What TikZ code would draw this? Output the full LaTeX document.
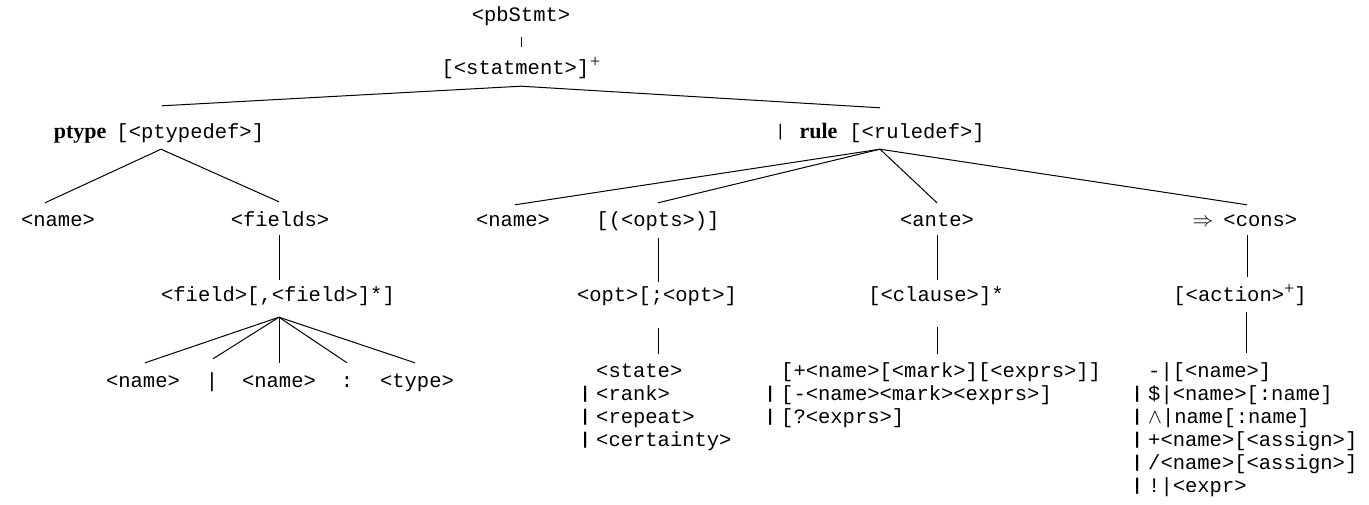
\documentclass[tikz,border=0pt]{standalone}
\usepackage{fontspec}
\setmainfont{Liberation Serif}
\setmonofont{Liberation Mono}
\usetikzlibrary{calc}
\newcommand\sbar{\raisebox{2pt}{\fontsize{17}{17}\selectfont\bfseries|}}
\newcommand\tbar{\raisebox{2pt}{\fontsize{17}{17}\selectfont|}}
\newcommand\lbar{\makebox[19pt][l]{\hspace{3pt}\sbar}}
\newcommand\nobar{\makebox[19pt][l]{}}
\newcommand\kw[1]{{\rmfamily\bfseries\fontsize{22}{23}\selectfont #1}}
\newcommand\plusup{{\rmfamily\raisebox{7pt}{\fontsize{18}{18}\selectfont +}}}
\begin{document}
\begin{tikzpicture}[x=1pt,y=-1pt,
  every node/.style={font=\fontsize{20.5}{23}\selectfont\ttfamily, inner sep=0pt},
  lab/.style={text height=15pt, text depth=5pt, anchor=base},
  lst/.style={anchor=base west},
  edge/.style={line width=1pt}]
\useasboundingbox (0,0) rectangle (1369,504);
% nodes
\node[lab] (pb) at (521,21) {<pbStmt>};
\node[lab] (st) at (521,74) {[<statment>]\hspace{1pt}\plusup};
\node[lab] (pt) at (159,138) {\kw{ptype}\hspace{10pt}[<ptypedef>]};
\node[lab] (ru) at (880,138) {\tbar\hspace{14pt}\kw{rule}\hspace{12pt}[<ruledef>]};
\node[lab] (n1) at (58,226) {<name>};
\node[lab] (fi) at (280,226) {<fields>};
\node[lab] (n2) at (513,226) {<name>};
\node[lab] (op) at (658,226) {[(<opts>)]};
\node[lab] (an) at (937,226) {<ante>};
\node[lab] (co) at (1245,226) {$\Rightarrow$\hspace{10pt}<cons>};
\node[lab] (fl) at (278,301) {<field>[,<field>]*]};
\node[lab] (ol) at (657,301) {<opt>[;<opt>]};
\node[lab] (cl) at (936,301) {[<clause>]*};
\node[lab] (ac) at (1240,301) {[<action>\plusup]};
\node[lab] (e1) at (143,387) {<name>};
\node[lab] (e2) at (212,387) {|};
\node[lab] (e3) at (279,387) {<name>};
\node[lab] (e4) at (347,387) {:};
\node[lab] (e5) at (417,387) {<type>};
\node[lst] (ls) at (577,377) {\begin{tabular}[t]{@{}l@{}}\nobar<state>\\\lbar<rank>\\\lbar<repeat>\\\lbar<certainty>\end{tabular}};
\node[lst] (cs) at (762,377) {\begin{tabular}[t]{@{}l@{}}\nobar[+<name>[<mark>][<exprs>]]\\\lbar[-<name><mark><exprs>]\\\lbar[?<exprs>]\end{tabular}};
\node[lst] (as) at (1129,377) {\begin{tabular}[t]{@{}l@{}}\nobar-|[<name>]\\\lbar\$|<name>[:name]\\\lbar$\wedge$|name[:name]\\\lbar+<name>[<assign>]\\\lbar/<name>[<assign>]\\\lbar!|<expr>\end{tabular}};
% connectors
\draw[edge] ($(pb.south)+(0,11)$) -- ($(st.north)+(0,-12)$);
\draw[edge] ($(pt.north)+(3,-17)$) -- ($(st.south)+(0,7)$) -- ($(ru.north)+(0,-15)$);
\draw[edge] ($(n1.north)+(-13,-8)$) -- ($(pt.south)+(2,6)$) -- ($(fi.north)+(-1,-9)$);
\draw[edge] ($(ru.south)+(0,6)$) -- ($(n2.north)+(2,-6)$);
\draw[edge] ($(ru.south)+(0,6)$) -- ($(op.north)+(0,-8)$);
\draw[edge] ($(ru.south)+(0,6)$) -- ($(an.north)+(0,-8)$);
\draw[edge] ($(ru.south)+(0,6)$) -- ($(co.north)+(2,-6)$);
\draw[edge] ($(fi.south)+(-1,4)$) -- ($(fi.south |- fl.north)+(-1,-6)$);
\draw[edge] ($(op.south)+(0,7)$) -- ($(op.south |- ol.north)+(0,-4)$);
\draw[edge] ($(an.south)+(0,4)$) -- ($(an.south |- cl.north)+(0,-6)$);
\draw[edge] ($(co.south)+(2,4)$) -- ($(co.south |- ac.north)+(2,-9)$);
\draw[edge] ($(fl.south)+(1,11)$) -- ($(e1.north)+(2,-9)$);
\draw[edge] ($(fl.south)+(1,11)$) -- ($(e2.north)+(1,-13)$);
\draw[edge] ($(fl.south)+(1,11)$) -- ($(e3.north)+(0,-9)$);
\draw[edge] ($(fl.south)+(1,11)$) -- ($(e4.north)+(0,-9)$);
\draw[edge] ($(fl.south)+(1,11)$) -- ($(e5.north)+(-2,-9)$);
\draw[edge] ($(ol.south)+(1,22)$) -- ($(ol.south |- ls.north)+(1,-7)$);
\draw[edge] ($(cl.south)+(1,21)$) -- ($(cl.south |- cs.north)+(1,-7)$);
\draw[edge] ($(ac.south)+(6,6)$) -- ($(ac.south |- as.north)+(6,-8)$);
\end{tikzpicture}
\end{document}
